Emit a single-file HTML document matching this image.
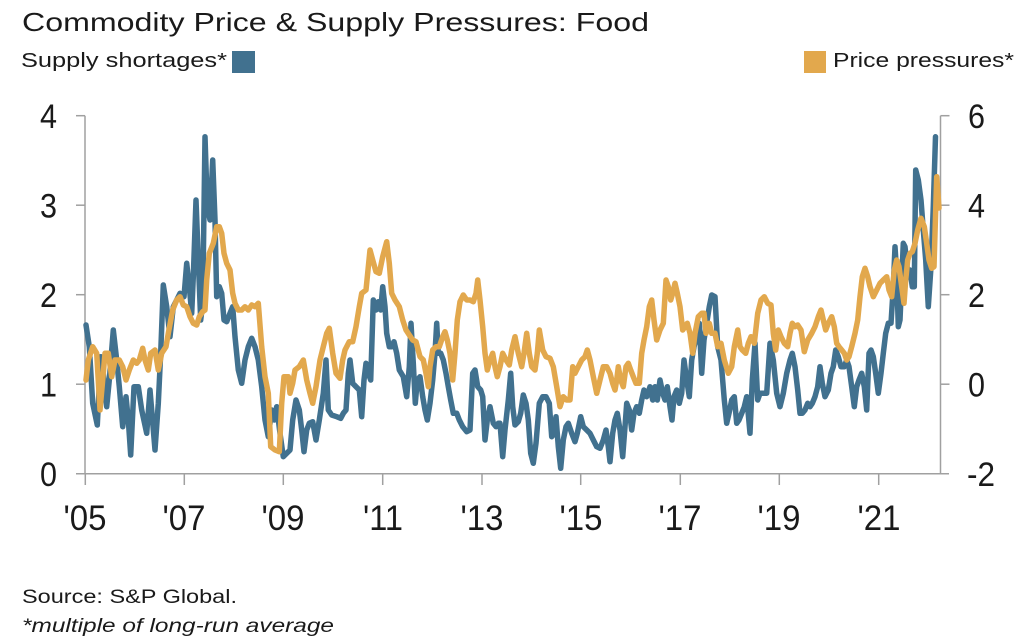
<!DOCTYPE html>
<html>
<head>
<meta charset="utf-8">
<style>
  html, body { margin: 0; padding: 0; background: #ffffff; }
  svg { display: block; }
  text { font-family: "Liberation Sans", Arial, sans-serif; fill: #1a1a1a; }
</style>
</head>
<body>
<svg width="1024" height="640" viewBox="0 0 1024 640" xmlns="http://www.w3.org/2000/svg">
  <rect x="0" y="0" width="1024" height="640" fill="#ffffff"/>

  <!-- Title & legend -->
  <text x="22" y="31" font-size="26" textLength="627" lengthAdjust="spacingAndGlyphs">Commodity Price &amp; Supply Pressures: Food</text>
  <text x="21" y="67" font-size="20" textLength="206" lengthAdjust="spacingAndGlyphs">Supply shortages*</text>
  <rect x="232" y="51" width="23" height="22" fill="#41718f"/>
  <rect x="804" y="51" width="22" height="22" fill="#e2a84d"/>
  <text x="833" y="67" font-size="20" textLength="181" lengthAdjust="spacingAndGlyphs">Price pressures*</text>

  <!-- Axes -->
  <g stroke="#a0a0a0" stroke-width="1.5" fill="none">
    <line x1="85" y1="115.7" x2="85" y2="473.7"/>
    <line x1="940.5" y1="115.7" x2="940.5" y2="473.7"/>
    <line x1="76" y1="473.7" x2="949" y2="473.7"/>
    <line x1="76" y1="115.7" x2="85" y2="115.7"/>
    <line x1="76" y1="205.2" x2="85" y2="205.2"/>
    <line x1="76" y1="294.7" x2="85" y2="294.7"/>
    <line x1="76" y1="384.2" x2="85" y2="384.2"/>
    <line x1="940.5" y1="115.7" x2="949.5" y2="115.7"/>
    <line x1="940.5" y1="205.2" x2="949.5" y2="205.2"/>
    <line x1="940.5" y1="294.7" x2="949.5" y2="294.7"/>
    <line x1="940.5" y1="384.2" x2="949.5" y2="384.2"/>
    <line x1="85.3" y1="473.7" x2="85.3" y2="485"/>
    <line x1="184.3" y1="473.7" x2="184.3" y2="485"/>
    <line x1="283.3" y1="473.7" x2="283.3" y2="485"/>
    <line x1="382.7" y1="473.7" x2="382.7" y2="485"/>
    <line x1="482" y1="473.7" x2="482" y2="485"/>
    <line x1="580.7" y1="473.7" x2="580.7" y2="485"/>
    <line x1="680.3" y1="473.7" x2="680.3" y2="485"/>
    <line x1="779.3" y1="473.7" x2="779.3" y2="485"/>
    <line x1="878.7" y1="473.7" x2="878.7" y2="485"/>
  </g>

  <!-- Left axis labels -->
  <g font-size="34" text-anchor="end">
    <text x="57" y="128" textLength="17" lengthAdjust="spacingAndGlyphs">4</text>
    <text x="57" y="217.5" textLength="17" lengthAdjust="spacingAndGlyphs">3</text>
    <text x="57" y="307" textLength="17" lengthAdjust="spacingAndGlyphs">2</text>
    <text x="57" y="396.5" textLength="17" lengthAdjust="spacingAndGlyphs">1</text>
    <text x="57" y="486" textLength="17" lengthAdjust="spacingAndGlyphs">0</text>
  </g>
  <!-- Right axis labels -->
  <g font-size="34" text-anchor="start">
    <text x="968" y="128" textLength="17" lengthAdjust="spacingAndGlyphs">6</text>
    <text x="968" y="217.5" textLength="17" lengthAdjust="spacingAndGlyphs">4</text>
    <text x="968" y="307" textLength="17" lengthAdjust="spacingAndGlyphs">2</text>
    <text x="968" y="396.5" textLength="17" lengthAdjust="spacingAndGlyphs">0</text>
    <text x="967" y="486" textLength="28" lengthAdjust="spacingAndGlyphs">-2</text>
  </g>
  <!-- X axis labels -->
  <g font-size="35" text-anchor="middle">
    <text x="85" y="530" textLength="43" lengthAdjust="spacingAndGlyphs">'05</text>
    <text x="184" y="530" textLength="43" lengthAdjust="spacingAndGlyphs">'07</text>
    <text x="283" y="530" textLength="43" lengthAdjust="spacingAndGlyphs">'09</text>
    <text x="383" y="530" textLength="40" lengthAdjust="spacingAndGlyphs">'11</text>
    <text x="482" y="530" textLength="43" lengthAdjust="spacingAndGlyphs">'13</text>
    <text x="581" y="530" textLength="43" lengthAdjust="spacingAndGlyphs">'15</text>
    <text x="680" y="530" textLength="43" lengthAdjust="spacingAndGlyphs">'17</text>
    <text x="779" y="530" textLength="43" lengthAdjust="spacingAndGlyphs">'19</text>
    <text x="879" y="530" textLength="43" lengthAdjust="spacingAndGlyphs">'21</text>
  </g>

  <!-- Supply shortages (blue) -->
  <polyline fill="none" stroke="#41718f" stroke-width="5.5" stroke-linejoin="round" stroke-linecap="round" points="
86,325 89.3,346.7 92.7,403.3 97.3,425 100.7,356.7 103.3,373.3 106.7,406.7 109.3,380 113.3,330 116.7,360 119.3,386.7 122.7,426.7 126,396.7 128.3,420 130.7,455 134,386.7 138.3,386.7 141.7,410 146.7,433.3 150,390 155,450 158.3,403.3 160.7,353.3 163.3,285 166.7,306.7 170,336.7 173.3,306.7 176.7,300 180,293.3 184,296.7 186.7,263.3 189.3,286.7 191.7,313.3 193.3,276.7 196,200 198.3,260 200.7,320 202.7,303.3 205,136.7 207.3,206.7 210,220 212.7,160 215,220 216.7,296.7 219.3,286.7 221.7,293.3 224,320 226.7,321.7 230,313.3 232.7,306.7 235,336.7 238.3,370 241.7,383.3 245,360 248.3,346.7 251.7,338.3 255,346.7 258.3,360 261.7,386.7 265,420 268.3,436.7 271.7,410 274.3,420 276.7,406.7 280,433.3 283.3,456.7 286.7,453.3
290,450 292.7,420 296,400 299.3,410 301.7,430 304,451.7 306.7,430 309.3,423.3 312.7,421.7 316,440 319.3,420 323.3,393.3 326,360 328.3,410 331.7,415 336.7,416.7 340.7,418.3 343.3,413.3 346,410 348.3,373.3 350,360 352.7,383.3 356,386.7 359.3,390 361.7,416.7 364,380 366,363.3 368.3,373.3 370.7,380 373.3,300 376,310 378.3,301.7 380.7,310 382.7,286.7 385,306.7 386.7,333.3 389.3,346.7 391.7,346.7 394,341.7 396.7,353.3 399.3,370 403.3,376.7 406.7,396.7 409.3,366.7 411,323.3 413.3,363.3 415.3,403.3 417.3,380 420,376.7 422.7,396.7 425,410 427.3,420 430,403.3 432.7,380 435,353.3 436.7,323.3 438.3,353.3 440.7,353.3 443.3,360 446,373.3 448.3,386.7 450.7,400 453.3,413.3 456.7,413.3 459.3,420 462.7,426.7 466.7,431.7 470,430 472.7,373.3 475,370 477.7,386.7 480.7,390 482.7,396.7 485,440 487.3,420 490,406.7 493.3,423.3 496,426.7 498.3,423.3
500,423.3 502.7,456.7 505,430 508.3,400 510.7,373.3 512.7,406.7 515,425 518.3,421.7 520.7,413.3 523.3,395 526,403.3 528.3,420 530.7,453.3 533.3,463.3 536,443.3 539.3,403.3 542.7,396.7 546,396.7 549.3,403.3 551.7,436.7 554,433.3 556,416.7 558.3,446.7 560.7,468.3 563.3,440 566,426.7 568.3,423.3 571.7,433.3 575,441.7 577.3,433.3 580.7,416.7 583.3,426.7 586.7,430 590,433.3 593.3,440 596.7,446.7 600,448.3 603.3,440 606,430 608.3,446.7 610,461.7 612.7,433.3 615,420 617.3,413.3 620,430 622.7,456.7 625,426.7 626.7,403.3 629.3,410 631.7,430 634,413.3 636.7,406.7 639.3,413.3 641.7,400 644,390 646.7,396.7 650,386.7 652.7,400 655,386.7 657.3,400 660,380 662.7,393.3 665,400 667.3,386.7 670,406.7 672,420 674,396.7 676.7,390 679.3,403.3 681.7,393.3 684,360 686.7,380 689.3,396.7 691.7,360 694,346.7 696.7,336.7 699.3,323.3 701.7,373.3 704,340 706.7,323.3 709.3,306.7 711.7,295
715,296.7 717.7,346.7 721,360 724.3,400 726.7,423.3 729,413.3 731.7,400 734.3,396.7 736.7,423.3 739,420 741.7,413.3 744.3,406.7 746.7,396.7 750,433.3 752.3,380 755,343.3 757.7,400 760,393.3 763.3,393.3 766.7,393.3 770,343.3 773.3,360 776.7,393.3 780,406.7 783.3,393.3 786.7,373.3 790,360 792.3,353.3 795,366.7 797.7,390 800,413.3 802.3,413.3 805,410 807.7,403.3 810,406.7 812.3,403.3 815,396.7 817.7,386.7 820,366.7 822.3,383.3 825,396.7 828.3,390 831,373.3 833.3,366.7 835.7,350 838.3,356.7 841,366.7 844.3,366.7 846.7,360 849,366.7 851.7,386.7 854.3,406.7 856.7,386.7 859,380 861.7,373.3 864.3,386.7 866.7,410 869,353.3 871,350 873.3,356.7 875.7,373.3 878.3,393.3 881,373.3 883.3,353.3 885.7,333.3 888.3,323.3 891,323.3 893.3,286.7 895,246.7 896.7,273.3 898.3,326.7 900,320 901.7,280 903.3,243.3 905,246.7 907.7,273.3 910,270 912.3,286.7 914.3,286.7 915.7,170 918.3,180 921,200 923.3,230 925.7,260 928.3,306.7 931,266.7 933.3,206.7 935.5,136.7"/>

  <!-- Price pressures (orange) -->
  <polyline fill="none" stroke="#e2a84d" stroke-width="5.5" stroke-linejoin="round" stroke-linecap="round" points="
86,380 88.3,360 92.7,346.7 96.7,353.3 100,410 102.7,380 105,353.3 108.3,353.3 111.7,376.7 115,360 119.3,360 122.7,366.7 126,380 129.3,370 133.3,360 136.7,363.3 139.3,360 142.7,348.3 145,360 148.3,370 150.7,353.3 155,350 158.3,370 161.7,353.3 166,346.7 168.3,333.3 172.7,310 176.7,300 180,296.7 183.3,305 186.7,306.7 190,316.7 193.3,323.3 196.7,325 199.3,316.7 202.7,311.7 205,310 206.7,280 209.3,253.3 213.3,243.3 216.7,226.7 219.3,226.7 221.7,233.3 224,253.3 226.7,263.3 230,270 232.7,293.3 235,303.3 238.3,310 241.7,310 245,306.7 248.3,310 251.7,305 255,306.7 258.3,303.3 261.7,346.7 265,376.7 268.3,393.3 270.7,446.7 275,450 279.3,451.7 281.7,403.3 284,376.7 288.3,376.7
290,393.3 292.7,383.3 295,370 299.3,366.7 303.3,360 306.7,380 310,393.3 312.7,403.3 316,386.7 320,360 323.3,346.7 326.7,333.3 329.3,328.3 332.7,353.3 336,373.3 340,378.3 342.7,360 345,350 349.3,341.7 352.7,341.7 356,326.7 359.3,306.7 361.7,293.3 366,290 370,250 372.7,260 376,271.7 379.3,273.3 382.7,256.7 386.7,241.7 389.3,263.3 391.7,293.3 395,300 399.3,306.7 402.7,320 406,330 409.3,335 412.7,340 416,341.7 420,356.7 423.3,360 426,373.3 428.3,386.7 430,366.7 432.7,350 436,346.7 439.3,346.7 442.7,336.7 445,331.7 447.3,340 450,353.3 452.7,380 455,353.3 457.3,320 460,301.7 463.3,295 466.7,300 470,300 473.3,301.7 476,293.3 477.7,280 480,300 482.7,326.7 485,353.3 487.3,370 490,360 492.7,353.3 495,366.7 497.3,376.7
500,366.7 502.7,353.3 506,360 509.3,365 511.7,350 515,336.7 518.3,353.3 521.7,366.7 524,353.3 526.7,333.3 529.3,353.3 531.7,366.7 535,370 537.3,353.3 539.3,330 542.7,350 546,356.7 550,358.3 553.3,366.7 556.7,386.7 560,406.7 563.3,396.7 566.7,400 570,400 572.7,366.7 575,373.3 578.3,366.7 581.7,360 585,356.7 587.3,350 590,360 593.3,376.7 596.7,393.3 600,380 603.3,366.7 606.7,366.7 610,373.3 612.7,383.3 615,390 616.7,380 618.3,366.7 620.7,380 623.3,386.7 626,366.7 628.3,363.3 630.7,370 633.3,376.7 636,383.3 639.3,383.3 641.7,353.3 644,340 646.7,326.7 649.3,306.7 651.7,300 654,320 656.7,340 660,330 663.3,323.3 666,280 668.3,286.7 670.7,300 672.7,293.3 675,283.3 677.3,293.3 680,306.7 682.7,330 685,326.7 687.3,323.3 690,333.3 692.7,353.3 695,333.3 698.3,316.7 701.7,313.3 704,313.3 706,333.3 709.3,323.3 711.7,333.3
715,333.3 717.7,346.7 721,343.3 724.3,360 728.3,373.3 731.7,366.7 734.3,346.7 737.7,330 740,346.7 742.3,350 745.7,353.3 748.3,343.3 751,336.7 754.3,343.3 757.7,313.3 761,300 764.3,296.7 767.7,303.3 771,305 773.3,333.3 775.7,350 778.3,330 781,336.7 784.3,343.3 787.7,346.7 790,333.3 792.3,323.3 795,326.7 797.7,325 801,330 804.3,351.7 807.7,340 811.7,333.3 815,326.7 818.3,316.7 821,310 823.3,320 825.7,330 828.3,323.3 831.7,316.7 834.3,326.7 836.7,343.3 839,346.7 841.7,350 844.3,353.3 846.7,360 849,356.7 851.7,346.7 855,333.3 857.7,320 860,296.7 862.3,276.7 865,268.3 867.7,276.7 870,286.7 873.3,296.7 876.7,290 880,283.3 883.3,280 886.7,276.7 889,290 891.7,296.7 894.3,270 896.7,260 899,266.7 901.7,286.7 904,303.3 905.7,280 907.7,260 910,253.3 912.3,251.7 915,243.3 917.7,230 921,218.3 924.3,226.7 926.7,243.3 929,260 931.7,268.3 934,266.7 936.7,176.7 939,208"/>

  <!-- Footer -->
  <text x="22" y="603" font-size="19" textLength="215" lengthAdjust="spacingAndGlyphs">Source: S&amp;P Global.</text>
  <text x="22" y="632" font-size="19" font-style="italic" textLength="312" lengthAdjust="spacingAndGlyphs">*multiple of long-run average</text>
</svg>
</body>
</html>
